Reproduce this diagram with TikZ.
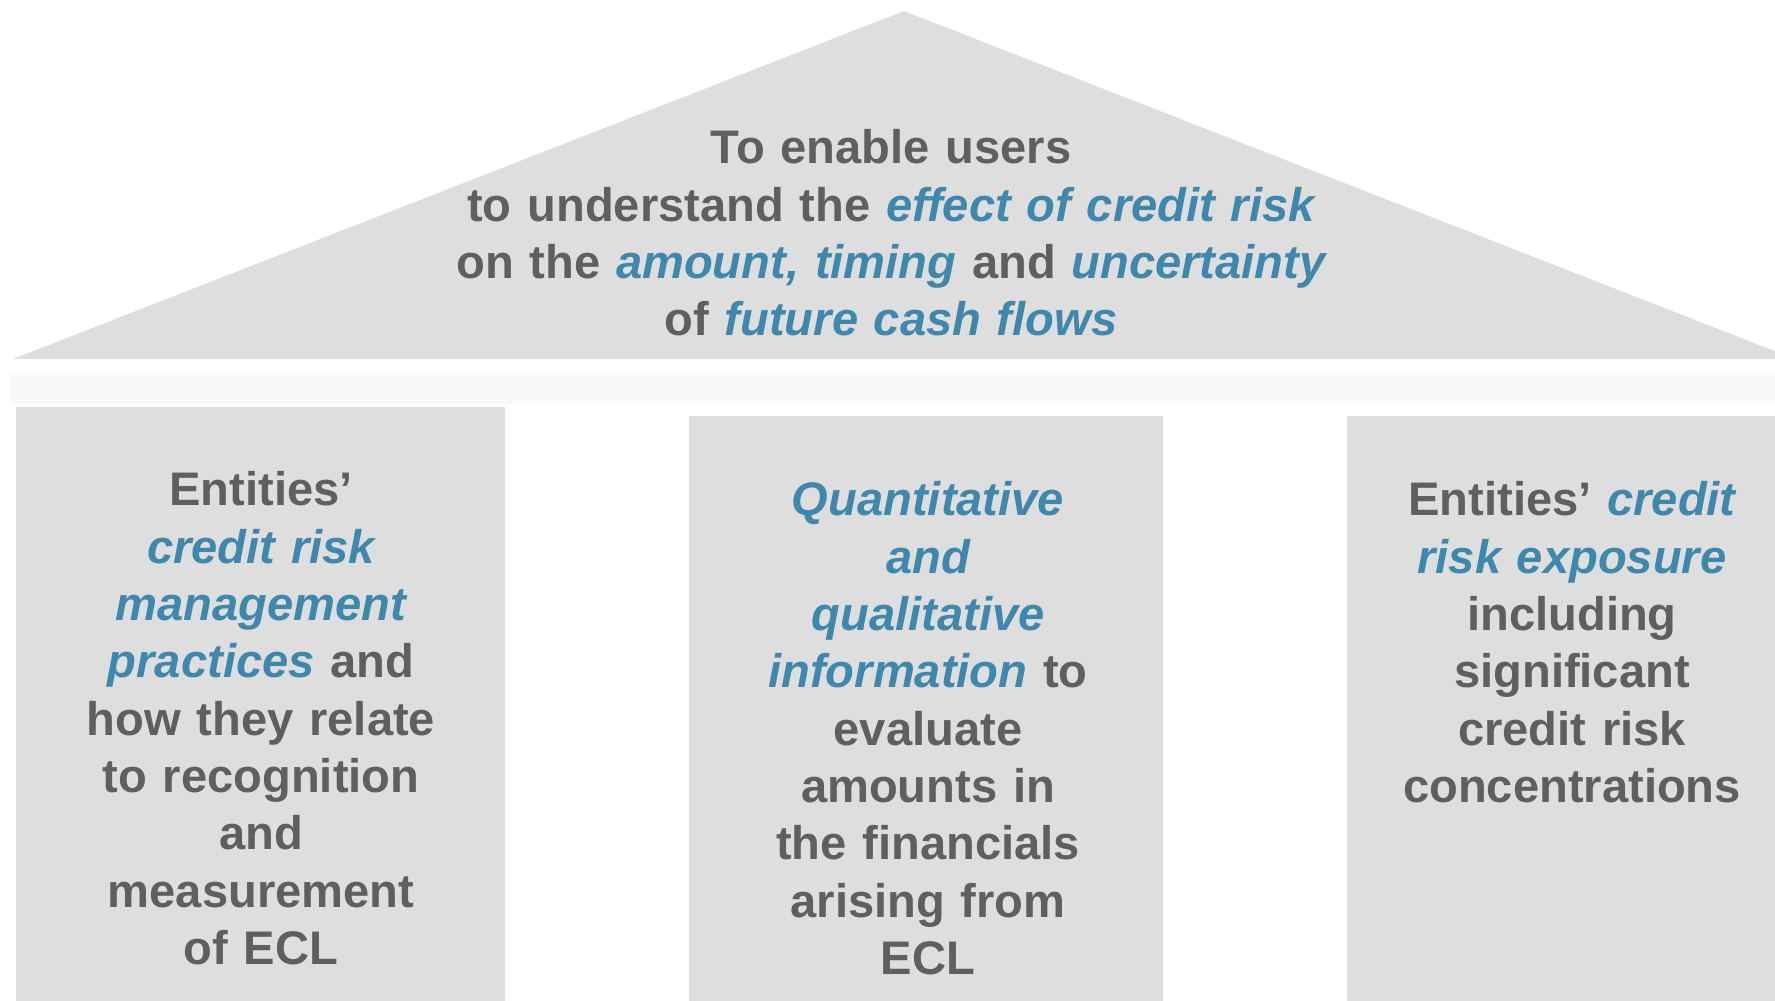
\documentclass[tikz,border=0pt]{standalone}
\usepackage{fontspec}
\setmainfont{Liberation Sans}
\usetikzlibrary{positioning}
\definecolor{housegray}{HTML}{DEDEDE}
\definecolor{beamgray}{HTML}{F9F9F9}
\definecolor{textgray}{HTML}{5E5F61}
\definecolor{keyblue}{HTML}{3E87AD}
\newcommand{\kw}[1]{{\color{keyblue}\itshape #1}}

\begin{document}
\begin{tikzpicture}[
    x=0.01cm,y=-0.01cm,
    every node/.style={font=\fontsize{13.4pt}{16.3pt}\selectfont\bfseries,
        text=textgray},
    pillartext/.style={align=center,anchor=base,inner sep=0pt},
    part/.style={fill=housegray}
  ]

    \useasboundingbox (0,0) rectangle (1775,1001);
    \clip (0,0) rectangle (1775,1001);

    % roof, beam and pillars
    \fill[part] (13,359) -- (904,11) -- (1795,359) -- cycle;
    \fill[beamgray] (10,373) rectangle (1775,404);
    \fill[part] (16,407) rectangle (505,1001);
    \fill[part] (689,416) rectangle (1163,1001);
    \fill[part] (1347,416) rectangle (1775,1001);

    \node[pillartext,text width=9cm] (goal) at (891,164)
        {To enable users\\
         to understand the \kw{effect of credit risk}\\
         on the \kw{amount, timing} and \kw{uncertainty}\\
         of \kw{future cash flows}};

    \node[pillartext,text width=4.8cm] (practices) at (261,506)
        {Entities’\\
         \kw{credit risk}\\
         \kw{management}\\
         \kw{practices} and\\
         how they relate\\
         to recognition\\
         and\\
         measurement\\
         of ECL};

    \node[pillartext,text width=4.7cm] (information) at (928,516)
        {\kw{Quantitative}\\
         \kw{and}\\
         \kw{qualitative}\\
         \kw{information} to\\
         evaluate\\
         amounts in\\
         the financials\\
         arising from\\
         ECL};

    \node[pillartext,text width=4.2cm] (exposure) at (1572,516)
        {Entities’ \kw{credit}\\
         \kw{risk exposure}\\
         including\\
         significant\\
         credit risk\\
         concentrations};
\end{tikzpicture}
\end{document}
